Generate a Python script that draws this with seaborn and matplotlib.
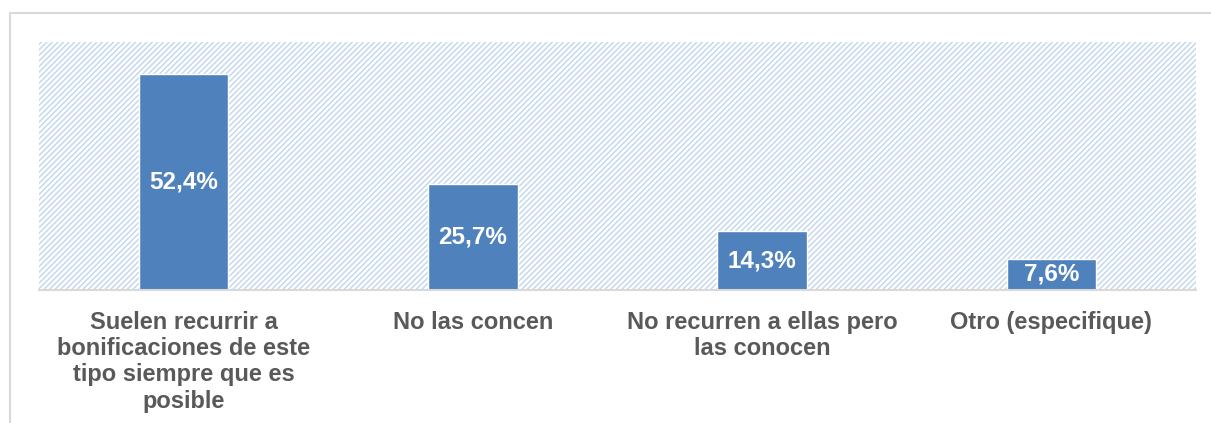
import matplotlib
matplotlib.use("Agg")
import matplotlib.pyplot as plt
from matplotlib.patches import Rectangle
import seaborn as sns
import pandas as pd

categories = [
    "Suelen recurrir a\nbonificaciones de este\ntipo siempre que es\nposible",
    "No las concen",
    "No recurren a ellas pero\nlas conocen",
    "Otro (especifique)",
]
values = [52.4, 25.7, 14.3, 7.6]

sns.set_theme(style="white")
plt.rcParams["font.family"] = ["Liberation Sans", "DejaVu Sans"]
plt.rcParams["hatch.linewidth"] = 1.0

W, H = 1211, 423
fig = plt.figure(figsize=(W / 100, H / 100), dpi=100)
fig.patch.set_facecolor("white")

# outer chart frame (continues past the right and bottom edges)
fig.add_artist(Rectangle((10 / W, -0.05), 1.05, 1 - 13 / H + 0.05,
                         transform=fig.transFigure, fill=False,
                         edgecolor="#d9d9d9", linewidth=1.5))

ax = fig.add_axes([39 / W, (H - 290) / H, 1157 / W, 248 / H])

# diagonal-striped plot area
ax.add_patch(Rectangle((0, 0), 1, 1, transform=ax.transAxes,
                       facecolor="white", edgecolor="#c0d5ef",
                       hatch="//////", linewidth=0, zorder=0))

df = pd.DataFrame({"cat": categories, "val": values})
sns.barplot(data=df, x="cat", y="val", color="#4f81bd", saturation=1,
            width=0.31, ax=ax, zorder=2)

ax.set_ylim(0, 60.2)
ax.set_xlim(-0.5, 3.5)
ax.set_xlabel("")
ax.set_ylabel("")
ax.set_yticks([])
for s in ["top", "left", "right"]:
    ax.spines[s].set_visible(False)
ax.spines["bottom"].set_color("#d9d9d9")
ax.spines["bottom"].set_linewidth(1.5)
ax.spines["bottom"].set_zorder(3)

ax.tick_params(axis="x", length=0, pad=15)
for lbl in ax.get_xticklabels():
    lbl.set_fontsize(17)
    lbl.set_fontweight("bold")
    lbl.set_color("#595959")
    lbl.set_multialignment("center")
    lbl.set_linespacing(1.18)

ax.bar_label(ax.containers[0],
             labels=[f"{v:.1f}%".replace(".", ",") for v in values],
             label_type="center", color="white", fontsize=17.5,
             fontweight="bold")

fig.savefig("out.png", dpi=100)
